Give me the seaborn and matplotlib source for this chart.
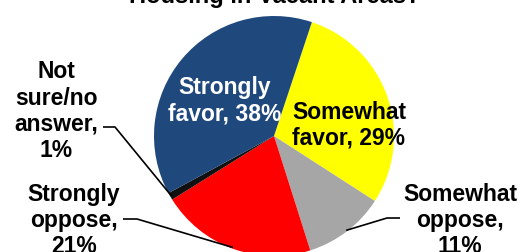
import numpy as np
import matplotlib
matplotlib.use("Agg")
import matplotlib.pyplot as plt
import seaborn as sns

# ---- data (clockwise from the top) ----
categories = ["Somewhat favor", "Somewhat oppose", "Strongly oppose",
              "Not sure/no answer", "Strongly favor"]
values = [29, 11, 21, 1, 38]
label_texts = ["Somewhat\nfavor, 29%", "Somewhat\noppose,\n11%", "Strongly\noppose,\n21%",
               "Not\nsure/no\nanswer,\n1%", "Strongly\nfavor, 38%"]
colors = ["#FFFF00", "#A6A6A6", "#FF0000", "#111111", "#1F497D"]
title = "Housing in Vacant Areas?"

sns.set_theme(style="white")
plt.rcParams["font.family"] = ["Liberation Sans", "DejaVu Sans"]

W, H = 532, 253
fig = plt.figure(figsize=(W / 100, H / 100), dpi=100)
ax = fig.add_axes([0, 0, 1, 1])

CX, CY, R = 274, 137, 120  # pie centre / radius in pixels


def px(x, y):
    return ((x - CX) / R, (CY - y) / R)


wedges, _ = ax.pie(values, colors=colors, startangle=71.6, counterclock=False,
                   radius=1.0, center=(0, 0),
                   wedgeprops=dict(linewidth=0, edgecolor="none"))

ax.set_xlim(-CX / R, (W - CX) / R)
ax.set_ylim(-(H - CY) / R, CY / R)
ax.set_aspect("auto")
ax.axis("off")

fs = 16.5
# label placement: (x centre px, last-line baseline px, colour)
placement = {
    "Somewhat favor": (349, 145, "black"),
    "Somewhat oppose": (460, 253, "black"),
    "Strongly oppose": (74, 253, "black"),
    "Not sure/no answer": (56, 157, "black"),
    "Strongly favor": (225, 120, "white"),
}
for cat, txt in zip(categories, label_texts):
    x, y, c = placement[cat]
    ax.text(*px(x, y), txt, ha="center", va="baseline", fontsize=fs,
            fontweight="bold", color=c, linespacing=1.18)

# leader lines: text-side start, elbow, then to wedge edge at mid angle
leaders = {
    "Not sure/no answer": ((103, 128), (115, 128)),
    "Strongly oppose": ((123, 220), (137, 220)),
    "Somewhat oppose": ((400, 219), (387, 219)),
}
for w, cat in zip(wedges, categories):
    if cat in leaders:
        a = np.deg2rad((w.theta1 + w.theta2) / 2)
        end = (0.99 * np.cos(a), 0.99 * np.sin(a))
        s, e = leaders[cat]
        p1, p2 = px(*s), px(*e)
        ax.plot([p1[0], p2[0], end[0]], [p1[1], p2[1], end[1]],
                color="black", lw=1.2, solid_capstyle="butt")

ax.text(*px(275, 2.5), title, ha="center", va="baseline", fontsize=fs + 0.5,
        fontweight="bold", color="black")

fig.savefig("out.png", dpi=100)
